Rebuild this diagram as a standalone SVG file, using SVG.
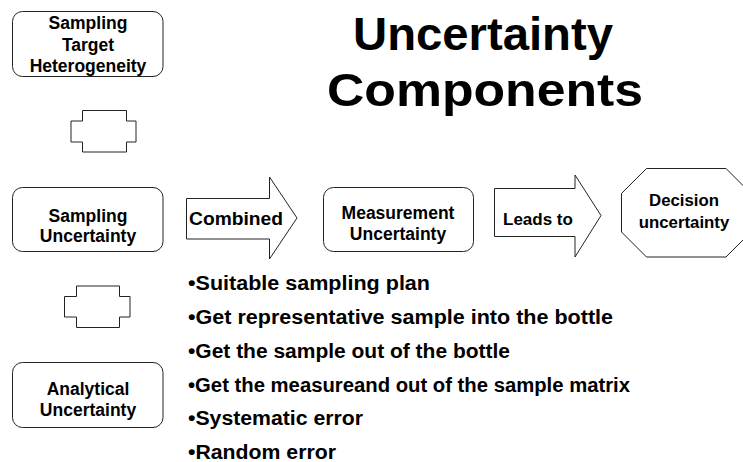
<svg xmlns="http://www.w3.org/2000/svg" width="743" height="462" viewBox="0 0 743 462">
<style>
.box{fill:#fff;stroke:#222;stroke-width:1}
.t{font-family:"Liberation Sans",Arial,sans-serif;font-weight:bold;fill:#000}
.bt{font-size:17.5px;text-anchor:middle}
.bl{font-size:20px}
.title{font-size:47px;text-anchor:middle}
</style>
<rect width="743" height="462" fill="#fff"/>
<g id="title">
<text class="t title" x="483" y="50" textLength="260" lengthAdjust="spacingAndGlyphs">Uncertainty</text>
<text class="t title" x="485" y="106" textLength="316" lengthAdjust="spacingAndGlyphs">Components</text>
</g>
<g id="node-heterogeneity">
<rect class="box" x="12.5" y="11.5" width="150.5" height="65" rx="10"/>
<text class="t bt" x="88" y="29">Sampling</text>
<text class="t bt" x="88" y="50.5">Target</text>
<text class="t bt" x="88" y="71.5">Heterogeneity</text>
</g>
<g id="node-sampling">
<rect class="box" x="12.5" y="187.5" width="150.5" height="64" rx="10"/>
<text class="t bt" x="88" y="222">Sampling</text>
<text class="t bt" x="88" y="242">Uncertainty</text>
</g>
<g id="node-analytical">
<rect class="box" x="12.5" y="362.5" width="150.5" height="65" rx="10"/>
<text class="t bt" x="88" y="395">Analytical</text>
<text class="t bt" x="88" y="416">Uncertainty</text>
</g>
<g id="node-measurement">
<rect class="box" x="323.5" y="187.5" width="150" height="64" rx="10"/>
<text class="t bt" x="398" y="219">Measurement</text>
<text class="t bt" x="398" y="240">Uncertainty</text>
</g>
<g id="node-decision">
<polygon class="box" points="646.5,168.5 726,168.5 751,193.5 751,232 726,257 646.5,257 621.5,232 621.5,193.5"/>
<text class="t" x="684" y="206" font-size="16.8" text-anchor="middle">Decision</text>
<text class="t" x="684" y="228" font-size="16.8" text-anchor="middle">uncertainty</text>
</g>
<g id="connectors">
<path class="box" d="M82.5,110.5 H126.5 V121 H136 V142 H126.5 V152 H82.5 V142 H71 V121 H82.5 Z"/>
<path class="box" d="M76.5,286 H119.5 V296.5 H130 V317 H119.5 V327.5 H76.5 V317 H64.5 V296.5 H76.5 Z"/>
<g id="arrow-combined">
<polygon class="box" points="186.5,198.5 269.5,198.5 269.5,177 297,218 269.5,259 269.5,239 186.5,239"/>
<text class="t" x="189" y="225" font-size="19" textLength="94" lengthAdjust="spacingAndGlyphs">Combined</text>
</g>
<g id="arrow-leads">
<polygon class="box" points="494.5,188.5 575,188.5 575,175 601,215.5 575,257 575,236.5 494.5,236.5"/>
<text class="t" x="503" y="225" font-size="17">Leads to</text>
</g>
</g>
<g id="bullets">
<text class="t bl" x="188" y="289.5" textLength="242" lengthAdjust="spacingAndGlyphs">•Suitable sampling plan</text>
<text class="t bl" x="188" y="323.5" textLength="425" lengthAdjust="spacingAndGlyphs">•Get representative sample into the bottle</text>
<text class="t bl" x="188" y="357.5" textLength="322" lengthAdjust="spacingAndGlyphs">•Get the sample out of the bottle</text>
<text class="t bl" x="188" y="391.5" textLength="442" lengthAdjust="spacingAndGlyphs">•Get the measureand out of the sample matrix</text>
<text class="t bl" x="188" y="425" textLength="175" lengthAdjust="spacingAndGlyphs">•Systematic error</text>
<text class="t bl" x="188" y="458.5" textLength="148" lengthAdjust="spacingAndGlyphs">•Random error</text>
</g>
</svg>
